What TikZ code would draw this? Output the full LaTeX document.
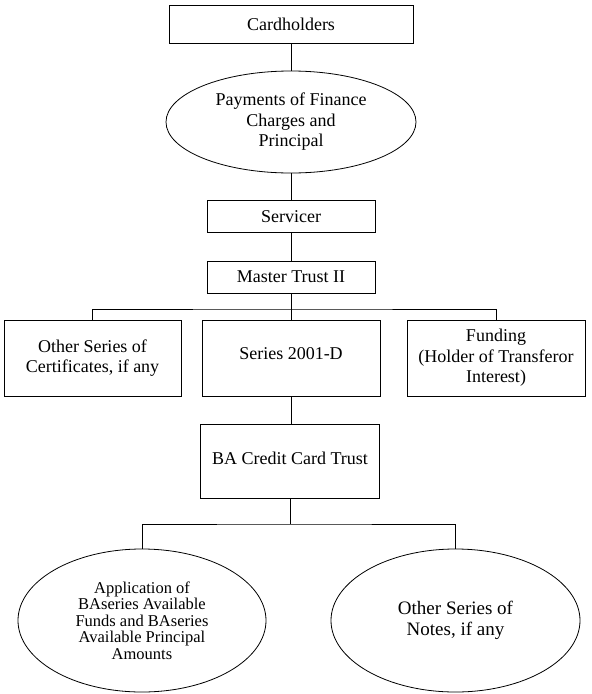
\documentclass[tikz,border=0pt]{standalone}
\usepackage{fontspec}
\setmainfont{Liberation Serif}
\usetikzlibrary{shapes.geometric}

\begin{document}
\begin{tikzpicture}[x=1pt, y=-1pt, line width=0.8pt,
  box/.style = {draw, rectangle, inner sep=0pt, align=center, font=\fontsize{18}{20.5}\selectfont},
  oval/.style = {draw, ellipse, inner sep=0pt, align=center, font=\fontsize{18}{20.5}\selectfont}]
\useasboundingbox (0,0) rectangle (592,694);
\node[box, minimum width=244pt, minimum height=38pt] (card) at (291,24) {Cardholders};
\node[oval, minimum width=250pt, minimum height=102pt] (pay) at (291,122) {Payments of Finance\\Charges and\\Principal};
\node[box, minimum width=168pt, minimum height=32pt] (serv) at (291,216.5) {Servicer};
\node[box, minimum width=168pt, minimum height=32pt] (master) at (291,277) {Master Trust II};
\node[box, minimum width=177pt, minimum height=76pt] (cert) at (92.5,358) {Other Series of\\Certificates, if any};
\node[box, minimum width=178pt, minimum height=76pt, text depth=8pt] (series) at (291,358) {Series 2001-D};
\node[box, minimum width=178pt, minimum height=76pt] (fund) at (496,358) {Funding\\(Holder of Transferor\\Interest)};
\node[box, minimum width=179pt, minimum height=74pt, text depth=6pt] (ba) at (290,461) {BA Credit Card Trust};
\node[oval, minimum width=248pt, minimum height=143pt, font=\fontsize{16.5}{16.5}\selectfont] (app) at (142,620.5) {Application of\\BAseries Available\\Funds and BAseries\\Available Principal\\Amounts};
\node[oval, minimum width=249pt, minimum height=143pt, font=\fontsize{19}{21}\selectfont] (notes) at (455.5,620.5) {Other Series of\\Notes, if any};
\coordinate (busA) at (291,309);
\coordinate (busB) at (290,524);
\draw (card) -- (pay);
\draw (pay) -- (serv);
\draw (serv) -- (master);
\draw (master) -- (busA);
\draw (cert.north) |- (busA) -| (fund.north);
\draw (busA) -- (series.north);
\draw (series.south) -- (series.south |- ba.north);
\draw (ba) -- (busB);
\draw (app.north) |- (busB) -| (notes.north);
\end{tikzpicture}
\end{document}
